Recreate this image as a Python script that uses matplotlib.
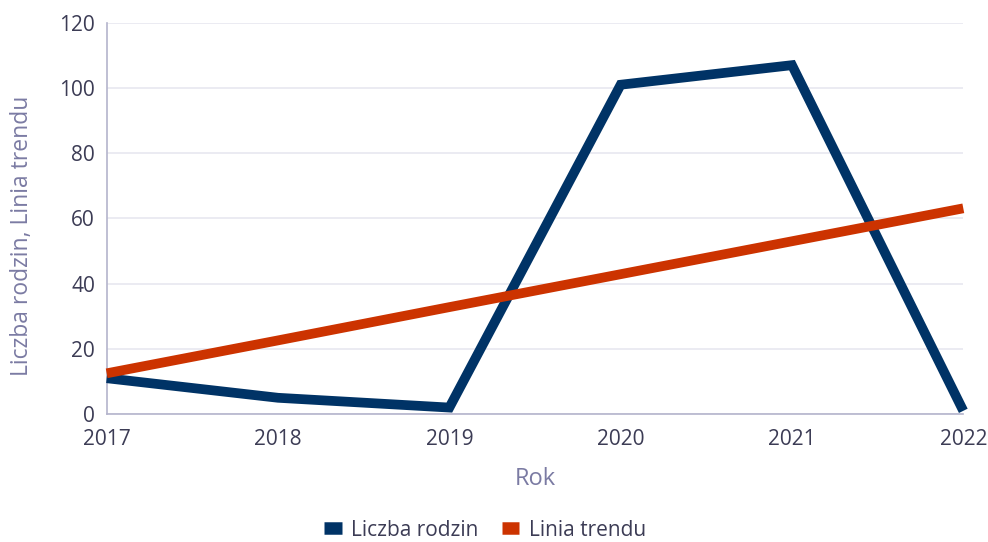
import matplotlib.pyplot as plt
from matplotlib.lines import Line2D

plt.rcParams['font.family'] = ['Open Sans', 'DejaVu Sans']

# Data for plotting
years = [2017, 2018, 2019, 2020, 2021, 2022]
families = [11, 5, 2, 101, 107, 1]
trend = [12.5, 22.6, 32.8, 42.9, 53.0, 63.1]

blue = '#003366'
orange = '#cc3300'
tick_col = '#3c3c55'
label_col = '#7b7ba3'

fig = plt.figure(figsize=(9.88, 5.42), dpi=100)
ax = fig.add_axes([0.108, 0.236, 0.867, 0.722])

ax.plot(years, families, color=blue, linewidth=7, solid_capstyle='butt',
        solid_joinstyle='miter', clip_on=False, zorder=3)
ax.plot(years, trend, color=orange, linewidth=7, solid_capstyle='butt',
        clip_on=False, zorder=4)

ax.set_xlim(2017, 2022)
ax.set_ylim(0, 120)
ax.set_yticks(range(0, 121, 20))
ax.set_xticks(years)

ax.grid(axis='y', color='#e8e8f0', linewidth=1.2)
ax.set_axisbelow(True)
for s in ['top', 'right']:
    ax.spines[s].set_visible(False)
ax.spines['left'].set_color('#b4b4cc')
ax.spines['bottom'].set_color('#b4b4cc')
ax.spines['left'].set_linewidth(1.2)
ax.spines['bottom'].set_linewidth(1.2)
ax.tick_params(length=0, labelsize=15, colors=tick_col, pad=8.5)
ax.tick_params(axis='x', pad=11)

ax.set_xlabel('Rok', fontsize=17, color=label_col, labelpad=12)
fig.text(0.022, 0.564, 'Liczba rodzin, Linia trendu', rotation=90,
         fontsize=16.5, color=label_col, ha='center', va='center')

handles = [Line2D([], [], color=blue, linewidth=9, solid_capstyle='butt'),
           Line2D([], [], color=orange, linewidth=9, solid_capstyle='butt')]
fig.legend(handles, ['Liczba rodzin', 'Linia trendu'], loc='center',
           bbox_to_anchor=(0.491, 0.022), ncol=2, frameon=False,
           fontsize=15, handlelength=0.85, handletextpad=0.45, columnspacing=1.1,
           labelcolor=tick_col)

fig.savefig('out.png', dpi=100)
